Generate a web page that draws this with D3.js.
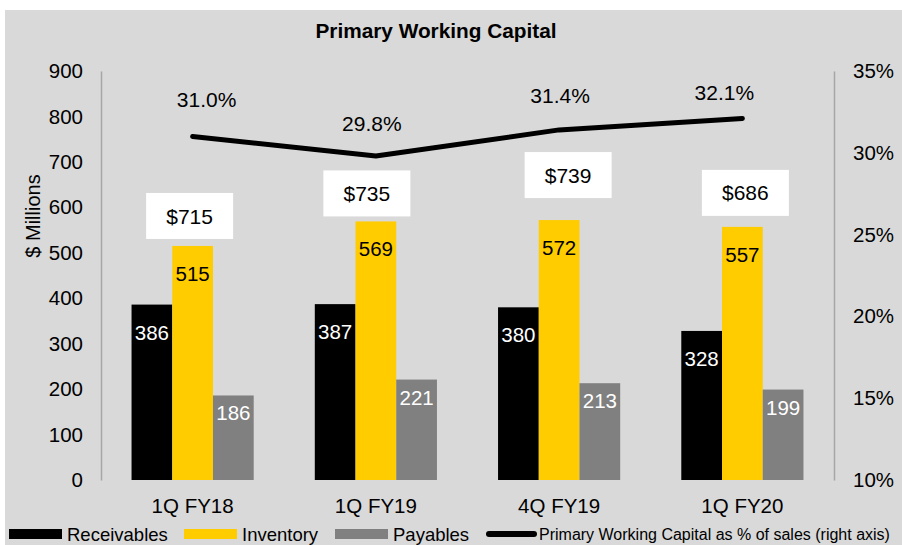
<!DOCTYPE html>
<html>
<head>
<meta charset="utf-8">
<script src="https://cdn.jsdelivr.net/npm/d3@7"></script>
<style>
  body { margin: 0; background: #ffffff; }
  text { font-family: "Liberation Sans", Arial, sans-serif; }
</style>
</head>
<body>
<div id="chart"></div>
<script>
// data
let quarters = ["1Q FY18", "1Q FY19", "4Q FY19", "1Q FY20"];
let receivables = [386, 387, 380, 328];
let inventory = [515, 569, 572, 557];
let payables = [186, 221, 213, 199];
let totals = [715, 735, 739, 686];
let pwcPercent = [31.0, 29.8, 31.4, 32.1];
let leftTicks = [0, 100, 200, 300, 400, 500, 600, 700, 800, 900];
let rightTicks = [10, 15, 20, 25, 30, 35];
let seriesNames = ["Receivables", "Inventory", "Payables"];
let lineName = "Primary Working Capital as % of sales (right axis)";

// layout only (hand nudges for the labels, like in the original slide)
let colors = ["#000000", "#ffcc00", "#808080"];
let labelColors = ["#ffffff", "#000000", "#ffffff"];
let totalNudge = [[-3, -30], [-9, -28], [9, -45], [3, -34]];
let pctNudge = [[14, -37], [-4, -33], [1, -34], [-18, -26]];
let legendX = [9, 184, 335, 486];

function drawChart() {
    let width = 902, height = 545;
    let plot = { left: 101, right: 834, top: 71, bottom: 480 };

    let svg = d3.select("#chart")
        .append("svg")
        .attr("width", width)
        .attr("height", height);

    //grey slide panel
    svg.append("rect")
        .attr("x", 5).attr("y", 10)
        .attr("width", width - 5).attr("height", height - 10)
        .attr("fill", "#d9d9d9");

    //title
    svg.append("text")
        .attr("x", 436).attr("y", 38)
        .attr("text-anchor", "middle")
        .attr("font-size", "20.8px")
        .attr("font-weight", "bold")
        .text("Primary Working Capital");

    //scales
    let x0 = d3.scaleBand()
        .domain(quarters)
        .range([plot.left, plot.right])
        .paddingInner(1 / 3)
        .paddingOuter(1 / 6);
    let x1 = d3.scaleBand()
        .domain(seriesNames)
        .range([0, x0.bandwidth()]);
    let yl = d3.scaleLinear().domain([0, 900]).range([plot.bottom, plot.top]);
    let yr = d3.scaleLinear().domain([10, 35]).range([plot.bottom, plot.top]);

    //axes
    let leftAxis = svg.append("g")
        .attr("transform", `translate(${plot.left},0)`)
        .call(d3.axisLeft(yl).tickValues(leftTicks).tickSize(0).tickPadding(18));
    let rightAxis = svg.append("g")
        .attr("transform", `translate(${plot.right},0)`)
        .call(d3.axisRight(yr).tickValues(rightTicks).tickSize(0).tickPadding(19)
            .tickFormat(d => d + "%"));
    let bottomAxis = svg.append("g")
        .attr("transform", `translate(0,${plot.bottom})`)
        .call(d3.axisBottom(x0).tickSize(0).tickPadding(18));
    bottomAxis.select(".domain").remove();

    [leftAxis, rightAxis, bottomAxis].forEach(function(ax) {
        ax.attr("font-family", null).attr("font-size", null);
        ax.selectAll("text").attr("font-size", "20.5px").attr("fill", "#000");
        ax.select(".domain").attr("stroke", "#a6a6a6").attr("stroke-width", 1.5);
    });

    //y axis title
    svg.append("text")
        .attr("transform", "translate(40,216) rotate(-90)")
        .attr("text-anchor", "middle")
        .attr("font-size", "20px")
        .text("$ Millions");

    //bars
    let rows = quarters.map((q, i) => ({
        q: q,
        vals: [receivables[i], inventory[i], payables[i]]
    }));

    let groups = svg.selectAll(".grp")
        .data(rows)
        .enter()
        .append("g")
        .attr("class", "grp")
        .attr("transform", d => `translate(${x0(d.q)},0)`);

    groups.selectAll("rect")
        .data(d => d.vals)
        .enter()
        .append("rect")
        .attr("x", (d, j) => x1(seriesNames[j]))
        .attr("y", d => yl(d))
        .attr("width", x1.bandwidth())
        .attr("height", d => yl(0) - yl(d))
        .attr("fill", (d, j) => colors[j]);

    groups.selectAll(".val")
        .data(d => d.vals)
        .enter()
        .append("text")
        .attr("class", "val")
        .attr("x", (d, j) => x1(seriesNames[j]) + x1.bandwidth() / 2)
        .attr("y", (d, j) => yl(d) + (j == 2 ? 25 : 35))
        .attr("text-anchor", "middle")
        .attr("font-size", "20.5px")
        .attr("fill", (d, j) => labelColors[j])
        .text(d => d);

    //total boxes above the inventory bars
    let boxW = 87, boxH = 46;
    let totalG = svg.selectAll(".total")
        .data(totals)
        .enter()
        .append("g")
        .attr("class", "total")
        .attr("transform", (d, i) => {
            let cx = x0(quarters[i]) + x0.bandwidth() / 2 + totalNudge[i][0];
            let cy = yl(inventory[i]) + totalNudge[i][1];
            return `translate(${cx},${cy})`;
        });
    totalG.append("rect")
        .attr("x", -boxW / 2).attr("y", -boxH / 2)
        .attr("width", boxW).attr("height", boxH)
        .attr("fill", "#ffffff");
    totalG.append("text")
        .attr("text-anchor", "middle")
        .attr("dy", "0.36em")
        .attr("font-size", "21px")
        .text(d => "$" + d);

    //percent line on right axis
    let line = d3.line()
        .x((d, i) => x0(quarters[i]) + x0.bandwidth() / 2)
        .y(d => yr(d));
    svg.append("path")
        .datum(pwcPercent)
        .attr("d", line)
        .attr("fill", "none")
        .attr("stroke", "#000")
        .attr("stroke-width", 5)
        .attr("stroke-linecap", "round")
        .attr("stroke-linejoin", "round");

    svg.selectAll(".pct")
        .data(pwcPercent)
        .enter()
        .append("text")
        .attr("class", "pct")
        .attr("x", (d, i) => x0(quarters[i]) + x0.bandwidth() / 2 + pctNudge[i][0])
        .attr("y", (d, i) => yr(d) + pctNudge[i][1])
        .attr("dy", "0.36em")
        .attr("text-anchor", "middle")
        .attr("font-size", "21px")
        .text(d => d.toFixed(1) + "%");

    //legend
    let legY = 534;
    let legend = svg.append("g");
    seriesNames.forEach(function(name, i) {
        legend.append("rect")
            .attr("x", legendX[i]).attr("y", legY - 5)
            .attr("width", 53).attr("height", 10)
            .attr("fill", colors[i]);
        legend.append("text")
            .attr("x", legendX[i] + 58).attr("y", legY)
            .attr("dy", "0.36em")
            .attr("font-size", "18.5px")
            .text(name);
    });
    legend.append("line")
        .attr("x1", legendX[3] + 3).attr("x2", legendX[3] + 48)
        .attr("y1", legY).attr("y2", legY)
        .attr("stroke", "#000")
        .attr("stroke-width", 6)
        .attr("stroke-linecap", "round");
    legend.append("text")
        .attr("x", legendX[3] + 53).attr("y", legY)
        .attr("dy", "0.36em")
        .attr("font-size", "16px")
        .text(lineName);
}

drawChart();
</script>
</body>
</html>
